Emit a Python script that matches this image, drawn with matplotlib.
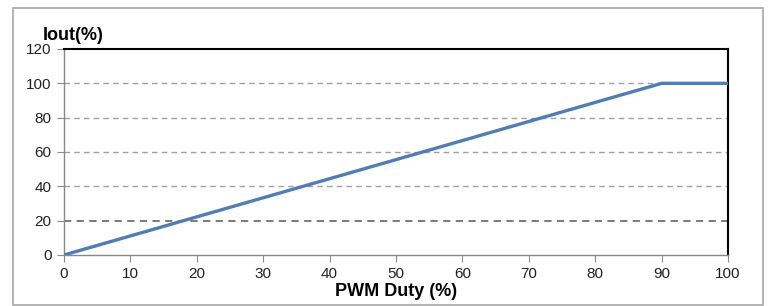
import matplotlib.pyplot as plt
from matplotlib.patches import Rectangle

# PWM duty vs output current
duty = [0, 90, 100]
iout = [0, 100, 100]
xticks = [0, 10, 20, 30, 40, 50, 60, 70, 80, 90, 100]
yticks = [0, 20, 40, 60, 80, 100, 120]

plt.rcParams['font.family'] = ['Liberation Sans', 'DejaVu Sans']

fig = plt.figure(figsize=(7.7, 3.06), dpi=100)
# outer chart frame
fig.patches.append(Rectangle((0.017, 0.004), 0.974, 0.970, transform=fig.transFigure,
                             fill=False, edgecolor='#a6a6a6', linewidth=1.2))

ax = fig.add_axes([0.0831, 0.1667, 0.8624, 0.6732])
ax.plot(duty, iout, color='#4f7db5', linewidth=2.4, solid_capstyle='butt', zorder=3)

ax.set_xlim(0, 100)
ax.set_ylim(0, 120)
ax.set_xticks(xticks)
ax.set_yticks(yticks)
ax.tick_params(direction='out', length=5, color='#888888', labelsize=11,
               labelcolor='#222222', pad=4)

ax.yaxis.grid(True, linestyle=(0, (4, 3)), color='#a0a0a0', linewidth=1.0)
gl = ax.get_ygridlines()
gl[1].set_color('#707070')
gl[1].set_linewidth(1.3)
gl[6].set_visible(False)
gl[0].set_visible(False)
ax.set_axisbelow(True)

for s in ['left', 'bottom']:
    ax.spines[s].set_color('#888888')
    ax.spines[s].set_linewidth(1.0)
for s in ['top', 'right']:
    ax.spines[s].set_color('black')
    ax.spines[s].set_linewidth(1.5)

ax.set_xlabel('PWM Duty (%)', fontsize=13, fontweight='bold', labelpad=1)
fig.text(0.055, 0.885, 'Iout(%)', fontsize=13, fontweight='bold', va='center', ha='left')

fig.savefig('out.png', dpi=100)
